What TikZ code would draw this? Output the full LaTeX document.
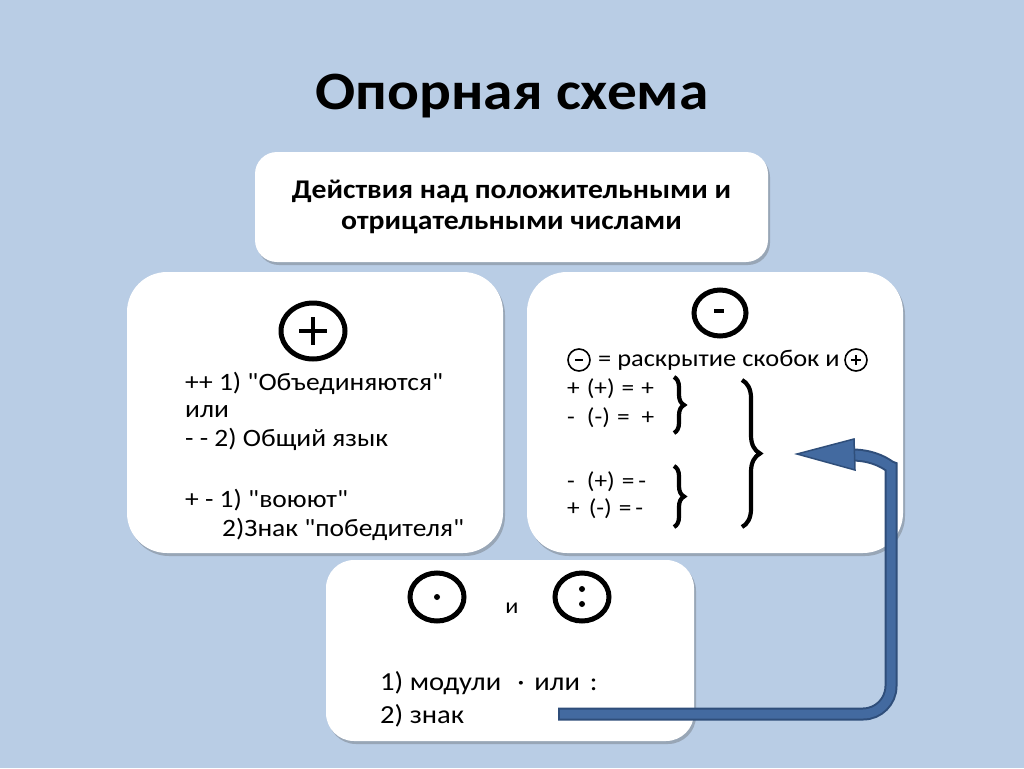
\documentclass[tikz,border=0pt]{standalone}
\usepackage{fontspec}
\setmainfont{Carlito}[FakeStretch=1.1, Ligatures=TeXOff]
\usetikzlibrary{shadows,decorations.pathreplacing}
\definecolor{bg}{RGB}{185,205,229}
\definecolor{arrowfill}{RGB}{67,106,160}
\definecolor{arrowedge}{RGB}{47,78,122}
\tikzset{
  card/.style={fill=white, draw=none, inner sep=0pt,
    drop shadow={shadow xshift=2pt, shadow yshift=-3pt, opacity=0.3, fill=black!70}},
  txt/.style={anchor=base west, inner sep=0pt, font=\fontsize{25}{28}\selectfont},
  eqtxt/.style={anchor=base west, inner sep=0pt, font=\fontsize{23}{26}\selectfont},
  ring/.style={line width=5pt},
  smallring/.style={line width=1.6pt},
  brc/.style={decorate, decoration={brace, amplitude=#1}, line width=4.2pt},
  brc/.default=9pt,
  shaftedge/.style={draw=arrowedge, line width=13pt},
  shaftfill/.style={draw=arrowfill, line width=9pt},
}
\newcommand{\gp}[1]{\hspace*{#1pt}}
\begin{document}
\begin{tikzpicture}[x=1pt, y=-1pt]
\useasboundingbox[fill=bg] (0,0) rectangle (1024,768);

% title
\node[font=\fontsize{54}{58}\selectfont\bfseries] (title) at (512,96) {Опорная схема};

% top card
\node[card, rounded corners=22pt, minimum width=513pt, minimum height=110pt,
      align=center, font=\fontsize{27}{31}\selectfont\bfseries] (top) at (511.5,207)
  {Действия над положительными и\\отрицательными числами};

% left card
\node[card, rounded corners=40pt, minimum width=376pt, minimum height=281pt] (left) at (315,412.5) {};
\draw[ring] (313,331) ellipse [x radius=32, y radius=28];
\draw[line width=4.5pt] (299,331) -- (327,331) (313,317) -- (313,345);
\node[txt] (l1) at (185,390) {++ 1) "Объединяются"};
\node[txt] (l2) at (185,417) {или};
\node[txt] (l3) at (185,446) {- - 2) Общий язык};
\node[txt] (l4) at (185,507) {+ - 1) "воюют"};
\node[txt] (l5) at (222,536) {2)Знак "победителя"};

% right card
\node[card, rounded corners=40pt, minimum width=376pt, minimum height=281pt] (right) at (715,412.5) {};
\draw[ring] (720,313) ellipse [x radius=26, y radius=23];
\draw[line width=3.5pt] (714,311) -- (724,311);
\draw[smallring] (579,360) circle [radius=11];
\draw[line width=1.6pt] (575,360) -- (583,360);
\node[txt, font=\fontsize{24}{27}\selectfont] (r0) at (598,366) {= раскрытие скобок и};
\draw[smallring] (856,360) circle [radius=11];
\draw[line width=1.6pt] (851,360) -- (861,360) (856,355) -- (856,365);
\node[eqtxt] (r1) at (567,395) {+\gp{7}(+)\gp{7}=\gp{7}+};
\node[eqtxt] (r2) at (567,424) {-\gp{12}(-)\gp{7}=\gp{12}+};
\node[eqtxt] (r3) at (567,488) {-\gp{12}(+)\gp{7}=\gp{4}-};
\node[eqtxt] (r4) at (567,515) {+\gp{9}(-)\gp{7}=\gp{4}-};
\coordinate (b1t) at (674,377); \coordinate (b1b) at (674,433);
\coordinate (b2t) at (674,466); \coordinate (b2b) at (674,527);
\coordinate (b3t) at (742,380); \coordinate (b3b) at (742,527);
\draw[brc=10pt] (b1t) -- (b1b);
\draw[brc=10pt] (b2t) -- (b2b);
\draw[brc=18pt] (b3t) -- (b3b);

% bottom card
\node[card, rounded corners=28pt, minimum width=368pt, minimum height=181pt] (bottom) at (510,650.5) {};
\draw[ring] (437,597) ellipse [x radius=27, y radius=24];
\fill (437,597) circle [radius=3];
\node[font=\fontsize{22}{24}\selectfont] (and) at (512,608) {и};
\draw[ring] (582,597) ellipse [x radius=27, y radius=24];
\fill (582,589) circle [radius=3] (582,604) circle [radius=3];
\node[txt, font=\fontsize{26}{29}\selectfont] (m1) at (380,690) {1) модули\gp{16}·\gp{10}или\gp{10}:};
\node[txt, font=\fontsize{26}{29}\selectfont] (m2) at (380,723) {2) знак};

% arrow
\coordinate (astart) at (558,714);
\coordinate (atip) at (797,454);
\coordinate (abase) at (852,455);
\draw[shaftedge, rounded corners=28pt] (astart) -- (891,714) -- (891,495) .. controls (891,468) and (878,455) .. (abase);
\draw[shaftfill, rounded corners=28pt] ([xshift=2pt]astart) -- (891,714) -- (891,495) .. controls (891,468) and (878,455) .. (abase);
\filldraw[fill=arrowfill, draw=arrowedge, line width=1.5pt, line join=miter]
  (atip) -- (854,439) -- (855,470) -- cycle;
\end{tikzpicture}
\end{document}
